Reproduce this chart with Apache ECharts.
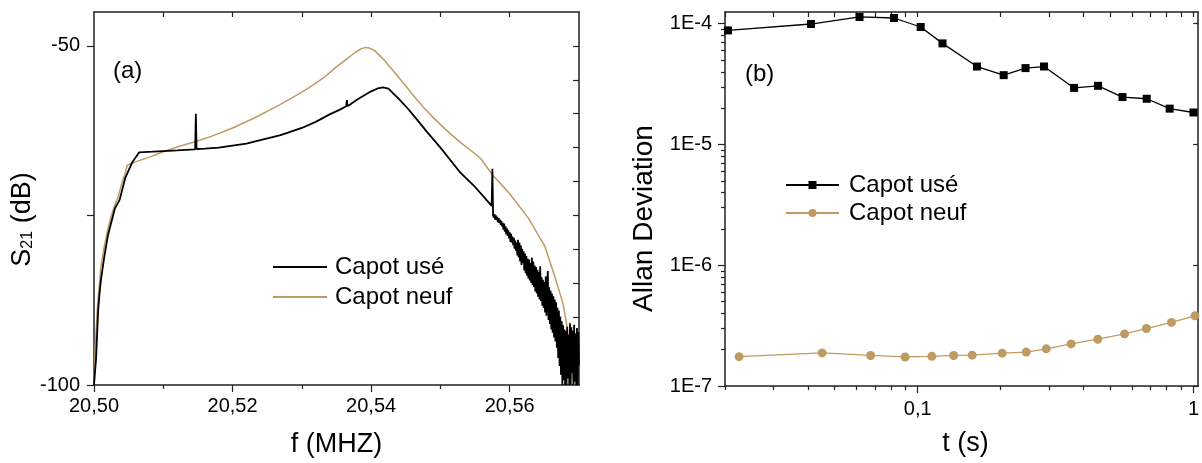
<!DOCTYPE html>
<html><head><meta charset="utf-8">
<script src="https://cdn.jsdelivr.net/npm/echarts@6/dist/echarts.min.js"></script>
<style>html,body{margin:0;padding:0;background:#fff}#c{width:1202px;height:463px}</style>
</head><body><div id="c"></div>
<script>
// ---------- Panel (a): S21 spectrum ----------
const usedFreq = [20.5000,20.5003,20.5006,20.5008,20.5010,20.5015,20.5020,20.5030,20.5037,20.5045,20.5055,20.5065,20.5085,20.5100,20.5120,20.5146,20.5147,20.5148,20.5160,20.5180,20.5200,20.5220,20.5240,20.5268,20.5280,20.5300,20.5320,20.5340,20.5355,20.5364,20.5365,20.5366,20.5380,20.5400,20.5410,20.5417,20.5425,20.5430,20.5440,20.5450,20.5460,20.5480,20.5500,20.5528,20.5550,20.5574,20.5575,20.5576,
20.5577,20.5578,20.5579,20.5580,20.5581,20.5582,20.5583,20.5584,20.5585,20.5586,20.5587,20.5588,20.5589,20.5590,
20.5591,20.5592,20.5593,20.5594,20.5595,20.5596,20.5597,20.5598,20.5599,20.5600,20.5601,20.5602,20.5603,20.5604,20.5605,20.5606,20.5607,20.5608,20.5609,20.5610,
20.5611,20.5612,20.5613,20.5614,20.5615,20.5616,20.5617,20.5618,20.5619,20.5620,20.5621,20.5622,20.5623,20.5624,20.5625,20.5626,20.5627,20.5628,20.5629,20.5630,
20.5631,20.5632,20.5633,20.5634,20.5635,20.5636,20.5637,20.5638,20.5639,20.5640,20.5641,20.5642,20.5643,20.5644,20.5645,20.5646,20.5647,20.5648,20.5649,20.5650,
20.5651,20.5652,20.5653,20.5654,20.5655,20.5656,20.5657,20.5658,20.5659,20.5660,20.5661,20.5662,20.5663,20.5664,20.5665,
20.5666,20.5667,20.5668,20.5669,20.5670,20.5671,20.5672,20.5673,20.5674,20.5675,20.5676,20.5677,20.5678,20.5679,20.5680,
20.5681,20.5682,20.5683,20.5684,20.5685,20.5686,20.5687,20.5688,20.5689,20.5690,20.5691,20.5692,20.5693,20.5694,20.5695,20.5696,20.5697,20.5698,20.5699,20.5700];
const usedS21 = [-100,-96,-89,-86.5,-84.5,-81,-78,-74,-72.7,-69.5,-67.2,-65.7,-65.6,-65.5,-65.4,-65.25,-60.0,-65.2,-65.15,-65.0,-64.7,-64.4,-63.9,-63.2,-62.8,-62.1,-61.2,-60.1,-59.4,-58.9,-58.0,-58.9,-57.9,-56.7,-56.25,-56.1,-56.3,-56.8,-57.8,-58.9,-60.1,-62.6,-65.0,-68.6,-70.8,-73.6,-68.1,-75.0,
-75.3,-74.8,-75.6,-75.0,-75.7,-75.2,-76.0,-75.4,-76.1,-75.6,-76.4,-75.8,-76.6,-76.1,
-77.1,-76.2,-77.4,-76.6,-77.8,-76.9,-78.0,-77.2,-78.4,-77.5,-78.9,-77.7,-79.0,-78.1,-79.4,-78.3,-79.9,-78.7,-80.2,-79.0,
-80.9,-78.6,-81.2,-79.0,-81.8,-79.4,-82.3,-79.9,-82.0,-80.3,-83.1,-80.6,-83.5,-81.0,-83.9,-81.4,-84.3,-81.5,-84.6,-82.0,
-84.9,-81.2,-85.3,-81.8,-85.6,-82.4,-86.2,-82.6,-86.5,-83.0,-87.0,-83.3,-87.4,-82.5,-87.6,-84.1,-88.3,-84.5,-88.6,-84.8,
-89.3,-84.0,-89.8,-84.9,-83.2,-90.4,-85.6,-91.0,-86.1,-91.8,-86.5,-92.3,-86.9,-93.0,-87.4,
-93.6,-87.8,-94.5,-88.6,-96.0,-89.0,-97.2,-89.9,-98.5,-90.6,-100,-91.2,-99.3,-91.8,-100,
-92.0,-100,-91.4,-99.0,-92.6,-100,-90.9,-100,-91.5,-98.2,-92.0,-100,-91.1,-99.5,-92.4,-100,-91.6,-100,-92.2,-97.0];
const neufFreq = [20.5000,20.5002,20.5005,20.5010,20.5015,20.5020,20.5025,20.5030,20.5035,20.5040,20.5045,20.5048,20.5060,20.5080,20.5100,20.5120,20.5147,20.5170,20.5200,20.5230,20.5268,20.5290,20.5310,20.5330,20.5350,20.5365,20.5378,20.5386,20.5391,20.5397,20.5405,20.5419,20.5433,20.5447,20.5461,20.5475,20.5489,20.5503,20.5517,20.5531,20.5545,20.5558,20.5576,20.5600,20.5627,20.5651,20.5665,20.5677,20.5682,20.5686,20.5690,20.5693];
const neufS21 = [-100,-94,-88.5,-82.5,-79.5,-77,-75,-73.5,-72.2,-70.3,-68.8,-67.6,-67.1,-66.4,-65.6,-64.9,-64.1,-63.3,-62.1,-60.7,-58.7,-57.4,-56.2,-54.8,-53.1,-51.9,-50.9,-50.4,-50.25,-50.3,-50.7,-52.1,-53.8,-55.55,-57.3,-59.0,-60.5,-61.9,-63.2,-64.4,-65.5,-66.6,-69.1,-71.8,-75.4,-79.6,-84.0,-88.0,-90.9,-94.4,-97.8,-100];
const freqMajorTicks = [20.50, 20.52, 20.54, 20.56];
const freqMinorTicks = [20.51, 20.53, 20.55];
const freqTopTicks = [20.51, 20.52, 20.53, 20.54, 20.55, 20.56];
const s21Ticks = [-100, -75, -50];
const s21Labels = [-100, -50];
const s21RightTicks = [-95, -90, -85, -80, -75, -70, -65, -60, -55, -50];

// ---------- Panel (b): Allan deviation ----------
const tauUse = [0.0205, 0.041, 0.0615, 0.082, 0.1025, 0.123, 0.164, 0.205, 0.246, 0.287, 0.369, 0.451, 0.553, 0.677, 0.82, 1.0];
const adevUse = [8.8e-5, 9.94e-5, 1.137e-4, 1.115e-4, 9.39e-5, 6.87e-5, 4.42e-5, 3.75e-5, 4.29e-5, 4.42e-5, 2.94e-5, 3.06e-5, 2.47e-5, 2.39e-5, 1.98e-5, 1.84e-5];
const tauNeuf = [0.0225, 0.045, 0.0675, 0.09, 0.1125, 0.135, 0.1575, 0.2025, 0.2475, 0.2925, 0.36, 0.45, 0.5625, 0.675, 0.8325, 1.0125];
const adevNeuf = [1.75e-7, 1.88e-7, 1.79e-7, 1.74e-7, 1.76e-7, 1.79e-7, 1.80e-7, 1.87e-7, 1.91e-7, 2.03e-7, 2.23e-7, 2.44e-7, 2.70e-7, 2.99e-7, 3.36e-7, 3.81e-7];
const tauRange = [0.02, 1.04];
const adevRange = [1e-7, 1.25e-4];
const tauMajorTicks = [0.1, 1];
const tauMajorLabels = ['0,1', '1'];
const tauMinorTicks = [0.02, 0.03, 0.04, 0.05, 0.06, 0.07, 0.08, 0.09, 0.2, 0.3, 0.4, 0.5, 0.6, 0.7, 0.8, 0.9];
const adevMajorTicks = [1e-7, 1e-6, 1e-5, 1e-4];
const adevMajorLabels = ['1E-7', '1E-6', '1E-5', '1E-4'];
const adevMinorTicks = [2e-7,3e-7,4e-7,5e-7,6e-7,7e-7,8e-7,9e-7,2e-6,3e-6,4e-6,5e-6,6e-6,7e-6,8e-6,9e-6,2e-5,3e-5,4e-5,5e-5,6e-5,7e-5,8e-5,9e-5];

const seriesNames = ['Capot usé', 'Capot neuf'];

if (usedFreq.length !== usedS21.length) throw new Error('used len ' + usedFreq.length + ' vs ' + usedS21.length);
if (neufFreq.length !== neufS21.length) throw new Error('neuf len');

const pairs = (xs, ys) => xs.map((x, i) => [x, ys[i]]);
const lg = a => a.map(v => Math.log10(v));
const FONT = '"Liberation Sans", Arial, sans-serif';
const AX = { color: '#222', width: 1.5 };
const TK = { color: '#222', width: 1.2 };
const BLACK = '#000';
const TAN = '#BD9B62';
const labelFrom = (vals, labels) => v => {
  const i = vals.findIndex(t => Math.abs(v / t - 1) < 1e-6);
  return i >= 0 ? labels[i] : '';
};
// Tick-only companion axes for the log panel: log10 space of the same extents
const tickAxisX = (pos, ticks, len, inside, line) => ({
  gridIndex: 1, type: 'value', position: pos, min: Math.log10(tauRange[0]), max: Math.log10(tauRange[1]),
  axisLine: { show: line, onZero: false, lineStyle: AX }, splitLine: { show: false }, axisLabel: { show: false },
  axisTick: { show: true, inside: inside, length: len, lineStyle: TK, customValues: lg(ticks) } });
const tickAxisY = (pos, ticks, len, inside, line) => ({
  gridIndex: 1, type: 'value', position: pos, min: Math.log10(adevRange[0]), max: Math.log10(adevRange[1]),
  axisLine: { show: line, onZero: false, lineStyle: AX }, splitLine: { show: false }, axisLabel: { show: false },
  axisTick: { show: true, inside: inside, length: len, lineStyle: TK, customValues: lg(ticks) } });

const chart = echarts.init(document.getElementById('c'));
chart.setOption({
  animation: false,
  textStyle: { fontFamily: FONT, color: '#000' },
  title: [
    { text: '(a)', left: 108, top: 54, padding: 5, textStyle: { fontSize: 24, fontWeight: 'normal', color: '#000', fontFamily: FONT } },
    { text: '(b)', left: 740, top: 57, padding: 5, textStyle: { fontSize: 24, fontWeight: 'normal', color: '#000', fontFamily: FONT } }
  ],
  grid: [
    { left: 94, top: 12, width: 485, height: 373 },
    { left: 725, top: 12, width: 476, height: 374 }
  ],
  legend: [
    { data: [seriesNames[0], seriesNames[1]], orient: 'vertical', left: 268, top: 250, itemWidth: 54, itemHeight: 2, icon: 'rect', itemGap: 6, selectedMode: false,
      textStyle: { fontSize: 24, color: '#000', fontFamily: FONT, padding: [0, 0, 0, 3] } },
    { data: [seriesNames[0] + ' (b)', seriesNames[1] + ' (b)'], orient: 'vertical', left: 780, top: 168, itemWidth: 53, itemHeight: 10, itemGap: 4, selectedMode: false,
      formatter: n => n.replace(' (b)', ''),
      textStyle: { fontSize: 24, color: '#000', fontFamily: FONT, padding: [0, 0, 0, 5] } }
  ],
  xAxis: [
    { gridIndex: 0, type: 'value', position: 'bottom', min: 20.5, max: 20.57,
      axisLine: { show: true, onZero: false, lineStyle: AX }, splitLine: { show: false },
      axisTick: { show: true, length: 7, lineStyle: TK, customValues: freqMajorTicks },
      axisLabel: { fontSize: 20, color: '#000', margin: 11, fontFamily: FONT, customValues: freqMajorTicks, formatter: v => v.toFixed(2).replace('.', ',') },
      name: 'f (MHZ)', nameLocation: 'middle', nameGap: 46, nameTextStyle: { fontSize: 27, color: '#000', fontFamily: FONT } },
    { gridIndex: 0, type: 'value', position: 'bottom', min: 20.5, max: 20.57,
      axisLine: { show: false, onZero: false }, splitLine: { show: false }, axisLabel: { show: false },
      axisTick: { show: true, length: 4, lineStyle: TK, customValues: freqMinorTicks } },
    { gridIndex: 0, type: 'value', position: 'top', min: 20.5, max: 20.57,
      axisLine: { show: true, onZero: false, lineStyle: AX }, splitLine: { show: false }, axisLabel: { show: false },
      axisTick: { show: true, inside: true, length: 5, lineStyle: TK, customValues: freqTopTicks } },
    { gridIndex: 1, type: 'log', position: 'bottom', min: tauRange[0], max: tauRange[1],
      axisLine: { show: true, onZero: false, lineStyle: AX }, splitLine: { show: false }, minorTick: { show: false },
      axisTick: { show: false },
      axisLabel: { fontSize: 20, color: '#000', margin: 13, fontFamily: FONT, formatter: labelFrom(tauMajorTicks, tauMajorLabels) },
      name: 't (s)', nameLocation: 'middle', nameGap: 44, nameTextStyle: { fontSize: 27, color: '#000', fontFamily: FONT, padding: [0, 0, 0, 8] } },
    tickAxisX('bottom', tauMajorTicks, 7, false, false),
    tickAxisX('bottom', tauMinorTicks, 4, false, false),
    tickAxisX('top', tauMinorTicks.concat(tauMajorTicks), 5, true, true)
  ],
  yAxis: [
    { gridIndex: 0, type: 'value', position: 'left', min: -100, max: -45,
      axisLine: { show: true, onZero: false, lineStyle: AX }, splitLine: { show: false },
      axisTick: { show: true, length: 7, lineStyle: TK, customValues: s21Ticks },
      axisLabel: { fontSize: 20, color: '#000', margin: 14, fontFamily: FONT, customValues: s21Labels },
      name: '{s|S}{sub|21}{s| (dB)}', nameLocation: 'middle', nameGap: 55,
      nameTextStyle: { fontSize: 27, color: '#000', fontFamily: FONT, padding: [0, 42, 0, 0],
        rich: { s: { fontSize: 27, fontFamily: FONT, color: '#000' }, sub: { fontSize: 16, fontFamily: FONT, color: '#000', padding: [12, 0, 0, 0] } } } },
    { gridIndex: 0, type: 'value', position: 'right', min: -100, max: -45,
      axisLine: { show: true, onZero: false, lineStyle: AX }, splitLine: { show: false }, axisLabel: { show: false },
      axisTick: { show: true, inside: true, length: 6, lineStyle: TK, customValues: s21RightTicks } },
    { gridIndex: 1, type: 'log', position: 'left', min: adevRange[0], max: adevRange[1],
      axisLine: { show: true, onZero: false, lineStyle: AX }, splitLine: { show: false }, minorTick: { show: false },
      axisTick: { show: false },
      axisLabel: { fontSize: 20, color: '#000', margin: 13, fontFamily: FONT, formatter: labelFrom(adevMajorTicks, adevMajorLabels) },
      name: 'Allan Deviation', nameLocation: 'middle', nameGap: 67,
      nameTextStyle: { fontSize: 28, color: '#000', fontFamily: FONT, padding: [0, 39, 0, 0] } },
    tickAxisY('left', adevMajorTicks, 7, false, false),
    tickAxisY('left', adevMinorTicks, 4, false, false),
    tickAxisY('right', adevMajorTicks, 5, true, true)
  ],
  series: [
    { type: 'line', name: seriesNames[0], xAxisIndex: 0, yAxisIndex: 0, data: pairs(usedFreq, usedS21),
      symbol: 'none', color: BLACK, lineStyle: { color: BLACK, width: 1.8 }, z: 3 },
    { type: 'line', name: seriesNames[1], xAxisIndex: 0, yAxisIndex: 0, data: pairs(neufFreq, neufS21),
      symbol: 'none', color: TAN, lineStyle: { color: TAN, width: 1.5 }, z: 2 },
    { type: 'line', name: seriesNames[0] + ' (b)', xAxisIndex: 3, yAxisIndex: 2, data: pairs(tauUse, adevUse),
      symbol: 'rect', symbolSize: 8, color: BLACK, itemStyle: { color: BLACK }, lineStyle: { color: BLACK, width: 1.3 } },
    { type: 'line', name: seriesNames[1] + ' (b)', xAxisIndex: 3, yAxisIndex: 2, data: pairs(tauNeuf, adevNeuf),
      symbol: 'circle', symbolSize: 9, color: TAN, itemStyle: { color: TAN }, lineStyle: { color: TAN, width: 1.3 } }
  ]
});
</script></body></html>
